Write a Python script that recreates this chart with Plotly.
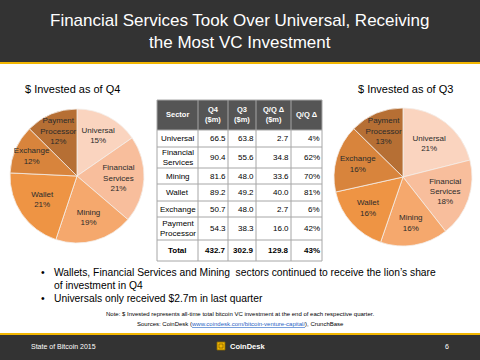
import plotly.graph_objects as go

W, H = 480, 360

# ---------------- data ----------------
sectors = ["Universal", "Financial Services", "Mining", "Wallet", "Exchange", "Payment Processor"]
pie_labels = ["Universal", "Financial<br>Services", "Mining", "Wallet", "Exchange", "Payment<br>Processor"]
table_labels = ["Universal", "Financial<br>Services", "Mining", "Wallet", "Exchange", "Payment<br>Processor"]
q4_values = [66.5, 90.4, 81.6, 89.2, 50.7, 54.3]
q3_values = [63.8, 55.6, 48.0, 49.2, 48.0, 38.3]
qq_delta = [2.7, 34.8, 33.6, 40.0, 2.7, 16.0]
qq_pct = ["4%", "62%", "70%", "81%", "6%", "42%"]
q4_pct_labels = ["15%", "21%", "19%", "21%", "12%", "12%"]
q3_pct_labels = ["21%", "18%", "16%", "16%", "16%", "13%"]
total_row = ["Total", "432.7", "302.9", "129.8", "43%"]
header_row = ["Sector", "Q4<br>($m)", "Q3<br>($m)", "Q/Q \u0394<br>($m)", "Q/Q \u0394"]
slice_colors = ["#FAD4BF", "#F8BE9C", "#F5A86D", "#EE9444", "#D8843C", "#B66F34"]

FONT = "Arial, Liberation Sans, sans-serif"


def px(x):
    return x / W


def py(y):
    return 1 - y / H


fig = go.Figure()

# ---------------- pies ----------------
def add_pie(values, pcts, x0, x1, y0, y1):
    fig.add_trace(go.Pie(
        labels=sectors,
        values=values,
        text=[f"{l}<br>{p}" for l, p in zip(pie_labels, pcts)],
        texttemplate="%{text}",
        textposition="inside",
        insidetextorientation="horizontal",
        textfont=dict(family=FONT, size=8, color="#2b2b2b"),
        marker=dict(colors=slice_colors, line=dict(color="#f4eee8", width=0.8)),
        sort=False,
        direction="clockwise",
        rotation=0,
        showlegend=False,
        hoverinfo="label+value",
        domain=dict(x=[px(x0), px(x1)], y=[py(y1), py(y0)]),
    ))


add_pie(q4_values, q4_pct_labels, 10, 144, 109, 243)
add_pie(q3_values, q3_pct_labels, 334, 472, 108, 246)

shapes = []
ann = []


def text(t, x, y, size, color="black", xanchor="center", align="center", yanchor="middle"):
    ann.append(dict(text=t, x=px(x), y=py(y), xref="paper", yref="paper", showarrow=False,
                    xanchor=xanchor, yanchor=yanchor, align=align,
                    font=dict(family=FONT, size=size, color=color)))


# ---------------- title bar ----------------
shapes.append(dict(type="rect", xref="paper", yref="paper", x0=0, x1=1, y0=py(62), y1=1,
                   fillcolor="#333333", line=dict(width=0), layer="below"))
shapes.append(dict(type="rect", xref="paper", yref="paper", x0=0, x1=1, y0=py(64), y1=py(62),
                   fillcolor="#F2B600", line=dict(width=0)))
text("Financial Services Took Over Universal, Receiving<br>the Most VC Investment", 240, 31, 17, "white")

# ---------------- footer ----------------
shapes.append(dict(type="rect", xref="paper", yref="paper", x0=0, x1=1, y0=0, y1=py(334),
                   fillcolor="#333333", line=dict(width=0), layer="below"))
shapes.append(dict(type="rect", xref="paper", yref="paper", x0=0, x1=1, y0=py(335), y1=py(333),
                   fillcolor="#F2B600", line=dict(width=0)))
text("State of Bitcoin 2015", 29, 346, 7, "white", xanchor="left")
text("6", 451, 346, 7, "white", xanchor="right")
shapes.append(dict(type="rect", xref="paper", yref="paper", x0=px(217), x1=px(225), y0=py(350), y1=py(342),
                   fillcolor="#F2B600", line=dict(color="#8a6a00", width=0.8)))
shapes.append(dict(type="rect", xref="paper", yref="paper", x0=px(219), x1=px(223), y0=py(348), y1=py(344),
                   fillcolor="#F2B600", line=dict(color="#6b5200", width=0.6)))
text("<b>CoinDesk</b>", 228, 346.5, 7.5, "white", xanchor="left")

# ---------------- pie titles ----------------
text("$ Invested as of Q4", 72, 89, 11)
text("$ Invested as of Q3", 405, 89, 11)

# ---------------- table ----------------
col_x = [157, 198, 228, 256, 291, 322]
row_y = [100, 130, 147, 168, 184, 201, 217, 240, 261]
grid = "#A6A6A6"

shapes.append(dict(type="rect", xref="paper", yref="paper", x0=px(col_x[0]), x1=px(col_x[-1]),
                   y0=py(row_y[1]), y1=py(row_y[0]), fillcolor="#555555", line=dict(width=0)))
for x in col_x:
    shapes.append(dict(type="line", xref="paper", yref="paper", x0=px(x), x1=px(x),
                       y0=py(row_y[-1]), y1=py(row_y[0]), line=dict(color=grid, width=1)))
for y in row_y:
    shapes.append(dict(type="line", xref="paper", yref="paper", x0=px(col_x[0]), x1=px(col_x[-1]),
                       y0=py(y), y1=py(y), line=dict(color=grid, width=1)))

for j, h in enumerate(header_row):
    text(f"<b>{h}</b>", (col_x[j] + col_x[j + 1]) / 2, (row_y[0] + row_y[1]) / 2, 7.5, "white")

rows = []
for i in range(len(sectors)):
    rows.append([table_labels[i], f"{q4_values[i]:.1f}", f"{q3_values[i]:.1f}", f"{qq_delta[i]:.1f}", qq_pct[i]])
rows.append([f"<b>{v}</b>" for v in total_row])

for i, r in enumerate(rows):
    yc = (row_y[i + 1] + row_y[i + 2]) / 2
    for j, v in enumerate(r):
        if j == 0:
            text(v, (col_x[0] + col_x[1]) / 2, yc, 8)
        else:
            text(v, col_x[j + 1] - 0.5, yc, 8, xanchor="right")

# ---------------- bullets ----------------
text("\u2022", 39, 272, 10.5, xanchor="left")
text("Wallets, Financial Services and Mining  sectors continued to receive the lion\u2019s share", 52, 272, 10.3, xanchor="left")
text("of investment in Q4", 52, 285, 10.3, xanchor="left")
text("\u2022", 39, 298, 10.5, xanchor="left")
text("Universals only received $2.7m in last quarter", 52, 298, 10.3, xanchor="left")

text("Note: $ Invested represents all-time total bitcoin VC investment at the end of each respective quarter.",
     240, 314, 6)
text("Sources: CoinDesk (<span style='color:#1F5FC4;text-decoration:underline'>www.coindesk.com/bitcoin-venture-capital/</span>), CrunchBase",
     240, 324, 6)

fig.update_layout(
    width=W, height=H,
    margin=dict(l=0, r=0, t=0, b=0),
    paper_bgcolor="white", plot_bgcolor="white",
    shapes=shapes, annotations=ann,
    font=dict(family=FONT),
    uniformtext=dict(minsize=7.5, mode="show"),
)

fig.write_html("out.html", config={"displayModeBar": False},
               post_script="document.body.style.margin='0';document.body.style.overflow='hidden';")
